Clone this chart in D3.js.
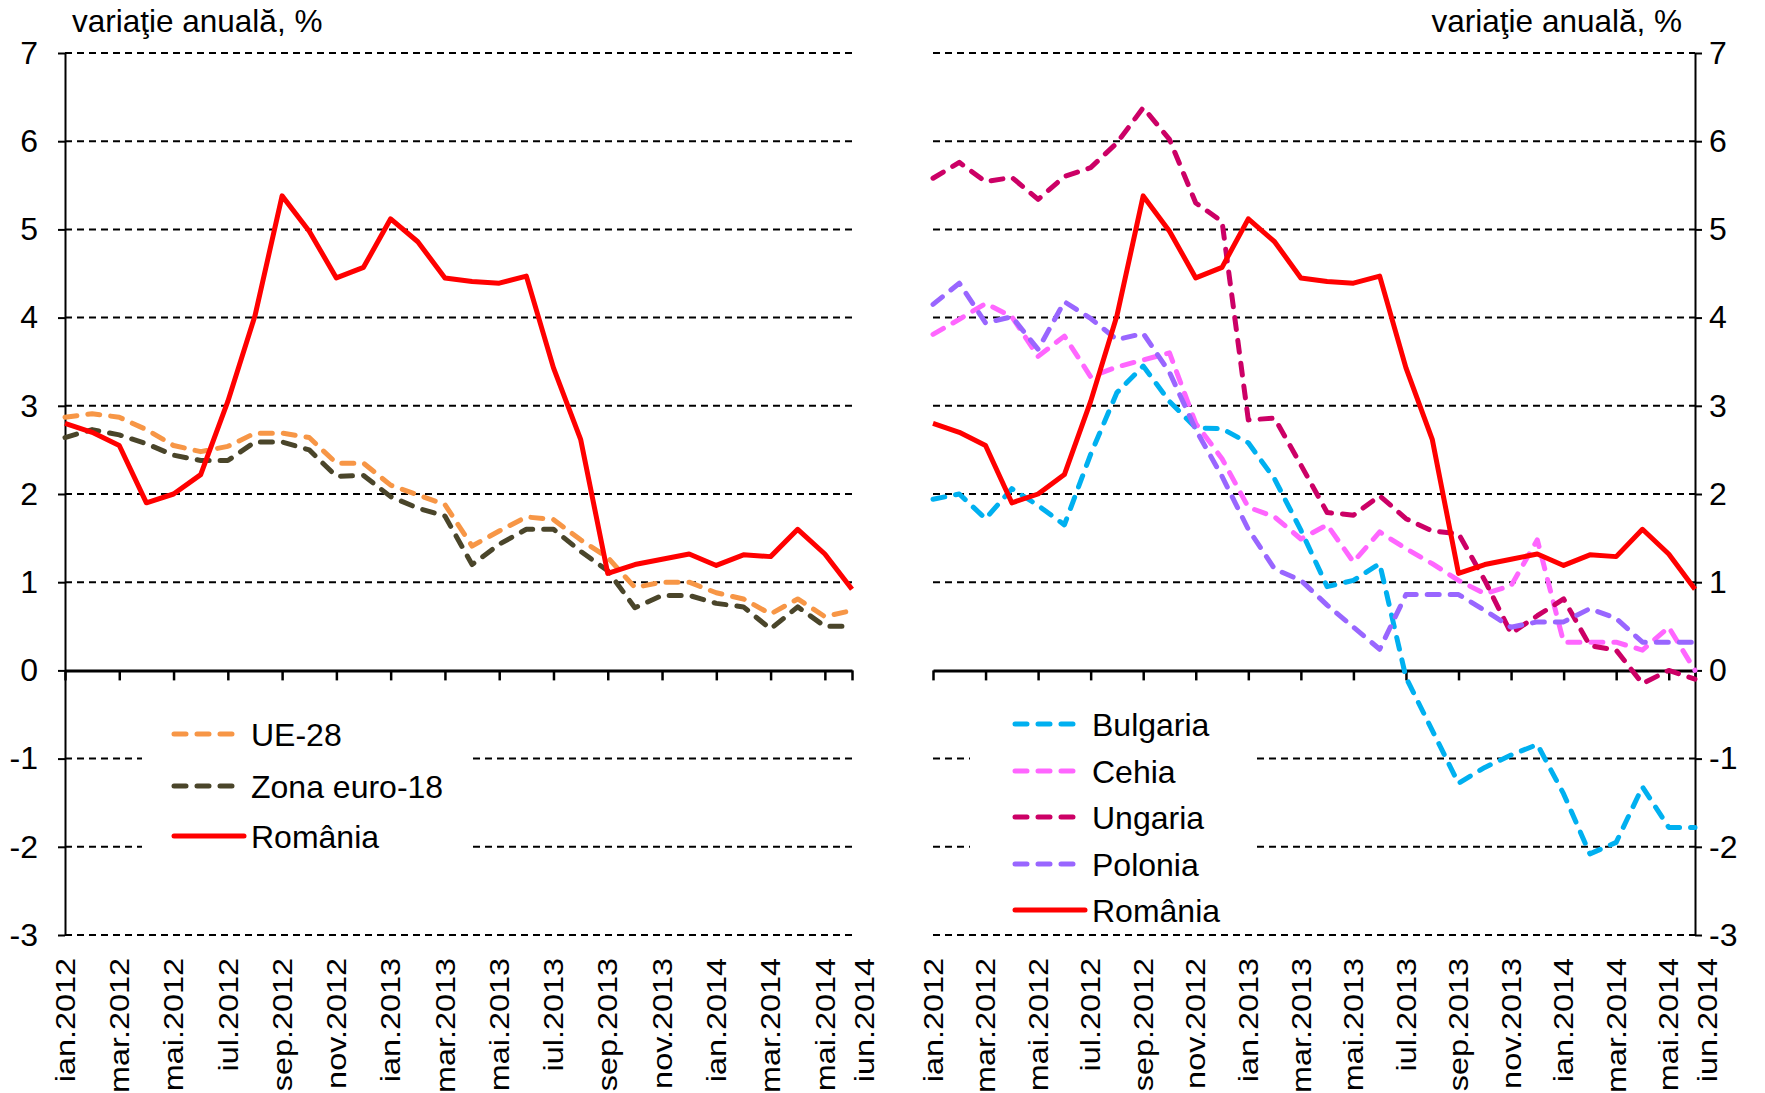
<!DOCTYPE html>
<html>
<head>
<meta charset="utf-8">
<script src="https://cdn.jsdelivr.net/npm/d3@7"></script>
<style>
  body { margin: 0; background: #fff; }
  text { font-family: Arial, 'Liberation Sans', sans-serif; fill: #000; }
</style>
</head>
<body>
<div id="chart"></div>
<script>
// luni, ian.2012 - iun.2014
var categories = [
  'ian.2012', 'feb.2012', 'mar.2012', 'apr.2012', 'mai.2012', 'iun.2012',
  'iul.2012', 'aug.2012', 'sep.2012', 'oct.2012', 'nov.2012', 'dec.2012',
  'ian.2013', 'feb.2013', 'mar.2013', 'apr.2013', 'mai.2013', 'iun.2013',
  'iul.2013', 'aug.2013', 'sep.2013', 'oct.2013', 'nov.2013', 'dec.2013',
  'ian.2014', 'feb.2014', 'mar.2014', 'apr.2014', 'mai.2014', 'iun.2014'
];
var tickLabels = [
  'ian.2012', 'mar.2012', 'mai.2012', 'iul.2012', 'sep.2012', 'nov.2012',
  'ian.2013', 'mar.2013', 'mai.2013', 'iul.2013', 'sep.2013', 'nov.2013',
  'ian.2014', 'mar.2014', 'mai.2014', 'iun.2014'
];
var yTicks = [-3, -2, -1, 0, 1, 2, 3, 4, 5, 6, 7];

var romania = [2.8, 2.7, 2.55, 1.9, 2.0, 2.22, 3.05, 4.02, 5.38, 4.98, 4.45, 4.57,
  5.12, 4.86, 4.45, 4.41, 4.39, 4.47, 3.43, 2.62, 1.1, 1.2, 1.26, 1.32,
  1.19, 1.31, 1.29, 1.6, 1.32, 0.92];
var ue28 = [2.87, 2.91, 2.87, 2.73, 2.55, 2.48, 2.54, 2.69, 2.69, 2.64, 2.35, 2.35,
  2.1, 1.99, 1.88, 1.41, 1.58, 1.74, 1.71, 1.48, 1.28, 0.94, 1.0, 1.0,
  0.88, 0.81, 0.64, 0.81, 0.61, 0.68];
var zonaEuro = [2.64, 2.73, 2.67, 2.57, 2.44, 2.38, 2.38, 2.59, 2.59, 2.5, 2.2, 2.21,
  1.97, 1.84, 1.75, 1.2, 1.43, 1.6, 1.6, 1.35, 1.13, 0.71, 0.85, 0.85,
  0.76, 0.72, 0.47, 0.72, 0.5, 0.5];
var bulgaria = [1.94, 2.0, 1.72, 2.06, 1.87, 1.65, 2.45, 3.15, 3.45, 3.05, 2.75, 2.74,
  2.58, 2.17, 1.59, 0.95, 1.02, 1.21, -0.08, -0.68, -1.28, -1.1, -0.96, -0.84,
  -1.4, -2.08, -1.95, -1.32, -1.78, -1.78];
var cehia = [3.81, 3.98, 4.16, 4.01, 3.56, 3.79, 3.33, 3.44, 3.52, 3.6, 2.8, 2.4,
  1.85, 1.74, 1.49, 1.65, 1.23, 1.57, 1.38, 1.21, 1.02, 0.87, 0.96, 1.48,
  0.32, 0.32, 0.32, 0.23, 0.49, 0.0];
var ungaria = [5.58, 5.76, 5.54, 5.59, 5.34, 5.6, 5.7, 5.98, 6.38, 6.02, 5.3, 5.09,
  2.84, 2.86, 2.33, 1.79, 1.76, 1.98, 1.72, 1.58, 1.55, 1.02, 0.42, 0.62,
  0.81, 0.28, 0.23, -0.15, 0.0, -0.1];
var polonia = [4.15, 4.39, 3.94, 4.01, 3.64, 4.18, 3.99, 3.75, 3.82, 3.38, 2.73, 2.2,
  1.6, 1.15, 1.02, 0.74, 0.49, 0.24, 0.86, 0.86, 0.86, 0.68, 0.49, 0.55,
  0.55, 0.7, 0.59, 0.32, 0.32, 0.32];

var axisTitle = 'variaţie anuală, %';

var W = 1765, H = 1093;
var svg = d3.select('#chart').append('svg')
  .attr('width', W)
  .attr('height', H);
svg.append('rect').attr('width', W).attr('height', H).attr('fill', '#fff');

var y = d3.scaleLinear().domain([-3, 7]).range([935, 53]);
var dash = '12,11';

function drawPanel(p) {
  var g = svg.append('g');
  var x = d3.scalePoint().domain(categories).range([p.x0, p.x1]);

  // gridlines (no line at 0, the axis sits there)
  g.selectAll('line.grid')
    .data(yTicks.filter(function(v) { return v !== 0; }))
    .enter()
    .append('line')
    .attr('class', 'grid')
    .attr('x1', p.x0)
    .attr('x2', p.x1)
    .attr('y1', function(d) { return y(d); })
    .attr('y2', function(d) { return y(d); })
    .attr('stroke', '#000')
    .attr('stroke-width', 2)
    .attr('stroke-dasharray', '7,5');

  // legend background hides the grid
  g.append('rect')
    .attr('x', p.legBox[0])
    .attr('y', p.legBox[1])
    .attr('width', p.legBox[2])
    .attr('height', p.legBox[3])
    .attr('fill', '#fff');

  // y axis
  var yAxis = p.side === 'left' ? d3.axisLeft(y) : d3.axisRight(y);
  yAxis.tickValues(yTicks)
    .tickSize(7)
    .tickSizeOuter(0)
    .tickPadding(p.side === 'left' ? 20 : 7)
    .tickFormat(function(d) { return String(d); });
  var ya = g.append('g')
    .attr('transform', 'translate(' + (p.side === 'left' ? p.x0 : p.x1) + ',0)')
    .call(yAxis);
  ya.select('.domain').attr('stroke-width', 2);
  ya.selectAll('.tick line').attr('stroke-width', 2);
  ya.selectAll('.tick text')
    .attr('font-size', 32)
    .attr('font-family', 'Arial, Liberation Sans, sans-serif')
    .attr('fill', '#000');

  // x axis on the 0 line
  var xAxis = d3.axisBottom(x).tickValues(tickLabels).tickSize(10).tickSizeOuter(0).tickFormat('');
  var xa = g.append('g')
    .attr('transform', 'translate(0,' + y(0) + ')')
    .call(xAxis);
  xa.select('.domain').attr('stroke-width', 3);
  xa.selectAll('.tick line').attr('stroke-width', 2.5);

  g.selectAll('text.xl')
    .data(tickLabels)
    .enter()
    .append('text')
    .attr('class', 'xl')
    .attr('transform', function(d, i) {
      var shift = i === tickLabels.length - 1 ? 12 : 0; // last label pushed off the crowded one
      return 'translate(' + (x(d) + shift) + ',958) rotate(-90) scale(1.2,1)';
    })
    .attr('text-anchor', 'end')
    .attr('dy', '0.36em')
    .attr('font-size', 27)
    .text(function(d) { return d; });

  // title
  g.append('text')
    .attr('x', p.titleX)
    .attr('y', 32)
    .attr('text-anchor', p.side === 'left' ? 'start' : 'end')
    .attr('font-size', 31.5)
    .text(axisTitle);

  // series
  var line = d3.line()
    .x(function(d, i) { return x(categories[i]); })
    .y(function(d) { return y(d); });

  p.series.forEach(function(s) {
    g.append('path')
      .datum(s.values)
      .attr('fill', 'none')
      .attr('stroke', s.color)
      .attr('stroke-width', 5)
      .attr('stroke-linejoin', 'round')
      .attr('stroke-linecap', s.dashed ? 'round' : 'butt')
      .attr('stroke-dasharray', s.dashed ? dash : null)
      .attr('d', line);
  });

  // legend
  p.series.forEach(function(s, i) {
    var ly = p.legRows[i];
    g.append('line')
      .attr('x1', p.legX + 2)
      .attr('x2', p.legX + (s.dashed ? 65 : 72))
      .attr('y1', ly)
      .attr('y2', ly)
      .attr('stroke', s.color)
      .attr('stroke-width', 5)
      .attr('stroke-linecap', 'round')
      .attr('stroke-dasharray', s.dashed ? dash : null);
    g.append('text')
      .attr('x', p.legX + 79)
      .attr('y', ly)
      .attr('dy', '0.36em')
      .attr('font-size', 32)
      .text(s.name);
  });
}

drawPanel({
  side: 'left',
  x0: 65,
  x1: 852,
  titleX: 72,
  legBox: [142, 700, 328, 160],
  legX: 172,
  legRows: [734, 786, 836],
  series: [
    { name: 'UE-28', values: ue28, color: '#F79646', dashed: true },
    { name: 'Zona euro-18', values: zonaEuro, color: '#4A452A', dashed: true },
    { name: 'România', values: romania, color: '#FF0000', dashed: false }
  ]
});

drawPanel({
  side: 'right',
  x0: 933,
  x1: 1695,
  titleX: 1682,
  legBox: [970, 694, 286, 232],
  legX: 1013,
  legRows: [724, 771, 817, 864, 910],
  series: [
    { name: 'Bulgaria', values: bulgaria, color: '#00B0F0', dashed: true },
    { name: 'Cehia', values: cehia, color: '#FF66FF', dashed: true },
    { name: 'Ungaria', values: ungaria, color: '#CC0066', dashed: true },
    { name: 'Polonia', values: polonia, color: '#9966FF', dashed: true },
    { name: 'România', values: romania, color: '#FF0000', dashed: false }
  ]
});
</script>
</body>
</html>
